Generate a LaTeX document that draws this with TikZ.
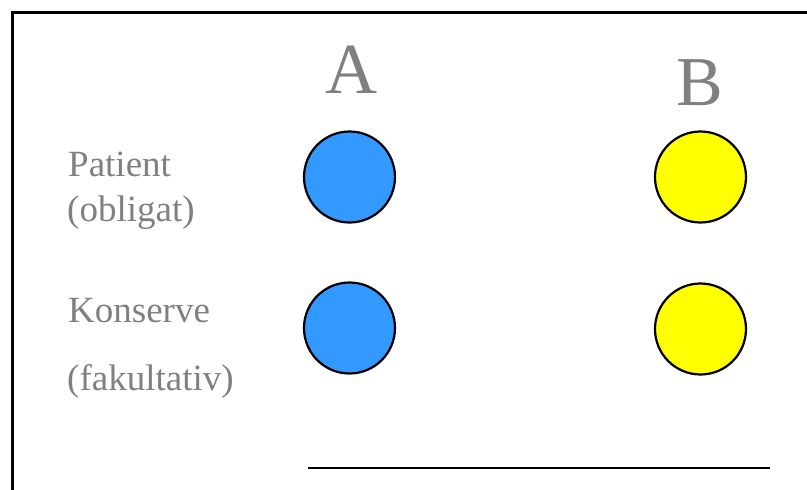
\documentclass[tikz,border=0pt]{standalone}
\usepackage{fontspec}
\setmainfont{Liberation Serif}
\definecolor{labelgray}{HTML}{808080}
\definecolor{dotblue}{HTML}{3399FF}
\definecolor{dotyellow}{HTML}{FFFF00}
\tikzset{
  dot/.style={circle, draw=black, line width=2.2pt, minimum size=91pt, inner sep=0pt},
  bluedot/.style={dot, fill=dotblue},
  yellowdot/.style={dot, fill=dotyellow},
  head/.style={anchor=base, inner sep=0pt, text=labelgray, font=\fontsize{72}{80}\selectfont},
  rowlabel/.style={anchor=base west, inner sep=0pt, text=labelgray, font=\fontsize{37}{44}\selectfont},
}
\begin{document}
\begin{tikzpicture}[x=1pt, y=-1pt]
  \useasboundingbox (0,0) rectangle (807,490);
  % outer frame, running off the right and bottom edges
  \begin{scope}
    \clip (0,0) rectangle (807,490);
    \draw[line width=2.6pt] (830,12.5) -- (12.5,12.5) -- (12.5,520);
  \end{scope}
  % column heads
  \node[head] (colA) at (351,93) {A};
  \node[head, font=\fontsize{70}{78}\selectfont] (colB) at (699.5,105) {B};
  % row labels
  \node[rowlabel] (patient) at (68,176) {Patient};
  \node[rowlabel] (obligat) at (67,221) {(obligat)};
  \node[rowlabel] (konserve) at (68,322) {Konserve};
  \node[rowlabel] (fakultativ) at (67,390) {(fakultativ)};
  % dots
  \node[bluedot] (a1) at (349.5,177) {};
  \node[bluedot] (a2) at (349.5,328) {};
  \node[yellowdot] (b1) at (700.5,177) {};
  \node[yellowdot] (b2) at (700.5,329) {};
  % rule underneath
  \coordinate (ruleL) at (308,468);
  \coordinate (ruleR) at (770,468);
  \draw[line width=2pt] (ruleL) -- (ruleR);
\end{tikzpicture}
\end{document}
